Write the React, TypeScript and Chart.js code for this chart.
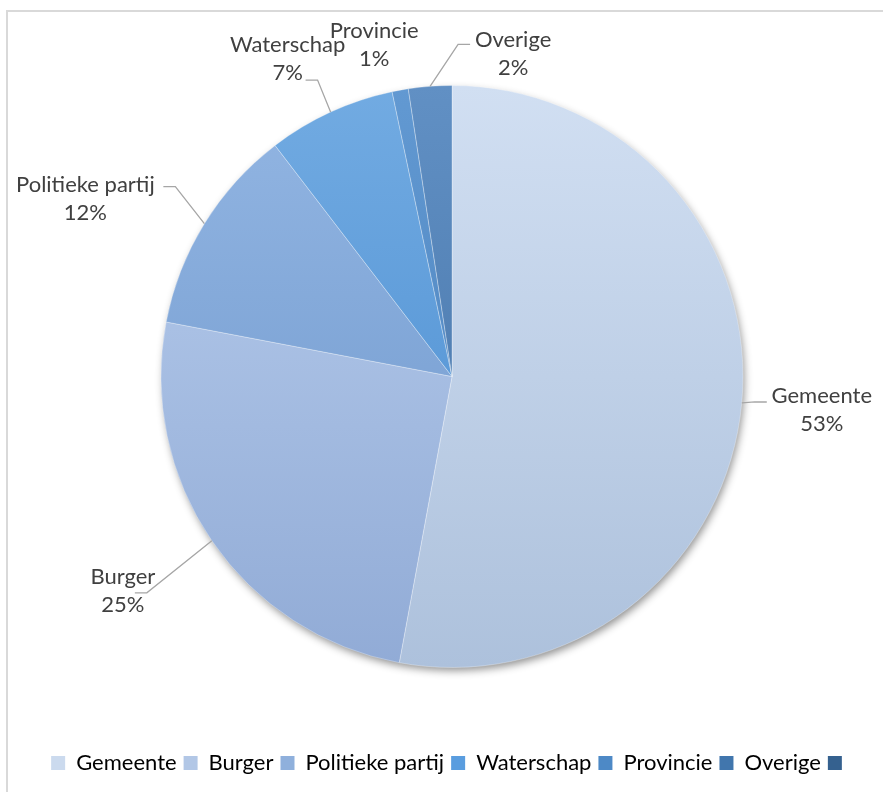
import React, { useEffect, useRef } from "react";
import { Chart, registerables } from "chart.js";

Chart.register(...registerables);

const categories = ["Gemeente", "Burger", "Politieke partij", "Waterschap", "Provincie", "Overige", ""];
const values = [52.9, 25.1, 11.6, 7.1, 0.9, 2.4, 0];

// gradient colours per slice: [top, bottom]
const sliceGradients: [string, string][] = [
  ["#d1dff2", "#adc1dc"],
  ["#bacfee", "#91abd6"],
  ["#93b6e3", "#6c95ca"],
  ["#72abe2", "#468acf"],
  ["#6299d2", "#467db8"],
  ["#6190c4", "#416fa3"],
  ["#3f6c9c", "#2f5680"],
];
const legendColors = ["#cbdaee", "#b2c7e6", "#8fb0dc", "#5a9ddf", "#4d89c6", "#4176ad", "#35618f"];

// label layout relative to anchor point on the slice edge (style only)
const labelOffsets: [number, number][] = [[80, 7], [-89, 50], [-119, -25], [-43, -53], [-26, -45], [83, -32], [0, 0]];
const elbowOffsets: ([number, number] | null)[] = [[13, -1], [-65, 52], [-29, -37], [-13, -32], null, [28, -42], null];

const FONT = "Lato, 'Open Sans', sans-serif";
const PIE_RADIUS = 291;

const framePlugin = {
  id: "frame",
  beforeDraw(chart: any) {
    const ctx = chart.ctx;
    ctx.save();
    ctx.fillStyle = "#d9d9d9";
    ctx.fillRect(6, 10, chart.width - 6, 2);
    ctx.fillRect(6, 10, 2, chart.height - 10);
    ctx.restore();
  },
};

const shadowPlugin = {
  id: "pieShadow",
  beforeDatasetsDraw(chart: any) {
    const meta = chart.getDatasetMeta(0);
    const arc = meta.data[0];
    if (!arc) return;
    const { x, y, outerRadius } = arc.getProps(["x", "y", "outerRadius"], true);
    const ctx = chart.ctx;
    ctx.save();
    ctx.shadowColor = "rgba(0,0,0,0.45)";
    ctx.shadowBlur = 9;
    ctx.shadowOffsetX = 2;
    ctx.shadowOffsetY = 4;
    ctx.fillStyle = "#ffffff";
    ctx.beginPath();
    ctx.arc(x, y, outerRadius - 1, 0, Math.PI * 2);
    ctx.fill();
    ctx.restore();
  },
};

const labelPlugin = {
  id: "outLabels",
  afterDatasetsDraw(chart: any) {
    const meta = chart.getDatasetMeta(0);
    const data = chart.data.datasets[0].data as number[];
    const total = data.reduce((a, b) => a + b, 0);
    const ctx = chart.ctx;
    ctx.save();
    meta.data.forEach((arc: any, i: number) => {
      if (!data[i]) return;
      const { x, y, startAngle, endAngle, outerRadius } = arc.getProps(
        ["x", "y", "startAngle", "endAngle", "outerRadius"],
        true
      );
      const mid = (startAngle + endAngle) / 2;
      const ax = x + Math.cos(mid) * outerRadius;
      const ay = y + Math.sin(mid) * outerRadius;
      const [dx, dy] = labelOffsets[i];
      const cx = ax + dx;
      const cy = ay + dy;
      const elbow = elbowOffsets[i];
      if (elbow) {
        const ex = ax + elbow[0];
        const ey = ay + elbow[1];
        const dir = dx < 0 ? -1 : 1;
        ctx.strokeStyle = "#a6a6a6";
        ctx.lineWidth = 1.3;
        ctx.beginPath();
        ctx.moveTo(ax, ay);
        ctx.lineTo(ex, ey);
        ctx.lineTo(ex + dir * 12, ey);
        ctx.stroke();
      }
      ctx.fillStyle = "#404040";
      ctx.font = `22px ${FONT}`;
      ctx.textAlign = "center";
      ctx.textBaseline = "middle";
      ctx.fillText(chart.data.labels[i], cx, cy - 14);
      ctx.fillText(`${Math.round((data[i] / total) * 100)}%`, cx, cy + 14);
    });
    ctx.restore();
  },
};

export default function App() {
  const canvasRef = useRef<HTMLCanvasElement | null>(null);

  useEffect(() => {
    document.body.style.margin = "0";
    const canvas = canvasRef.current;
    if (!canvas) return;
    const chart = new Chart(canvas, {
      type: "pie",
      data: {
        labels: categories,
        datasets: [
          {
            data: values,
            radius: PIE_RADIUS,
            borderWidth: 0.6,
            borderColor: "rgba(255,255,255,0.5)",
            backgroundColor: (c: any) => {
              const ch = c.chart;
              const area = ch.chartArea;
              const cols = sliceGradients[c.dataIndex] || sliceGradients[0];
              if (!area) return cols[0];
              const cy = (area.top + area.bottom) / 2;
              const g = ch.ctx.createLinearGradient(0, cy - PIE_RADIUS, 0, cy + PIE_RADIUS);
              g.addColorStop(0, cols[0]);
              g.addColorStop(1, cols[1]);
              return g;
            },
          } as any,
        ],
      },
      options: {
        animation: false,
        responsive: true,
        maintainAspectRatio: false,
        layout: { padding: { left: 21, right: 0, top: 8, bottom: 8 } },
        plugins: {
          tooltip: { enabled: false },
          legend: {
            position: "bottom",
            labels: {
              boxWidth: 14,
              boxHeight: 14,
              padding: 7,
              color: "#595959",
              font: { size: 22, family: FONT },
              generateLabels: (ch: any) =>
                ch.data.labels.map((l: string, i: number) => ({
                  text: l,
                  fillStyle: legendColors[i],
                  strokeStyle: legendColors[i],
                  lineWidth: 0,
                  hidden: false,
                  index: i,
                })),
            },
          },
        },
      },
      plugins: [framePlugin, shadowPlugin, labelPlugin],
    });
    return () => chart.destroy();
  }, []);

  return (
    <div style={{ position: "absolute", left: 0, top: 0, width: 883, height: 792, background: "#fff" }}>
      <canvas ref={canvasRef} />
    </div>
  );
}
